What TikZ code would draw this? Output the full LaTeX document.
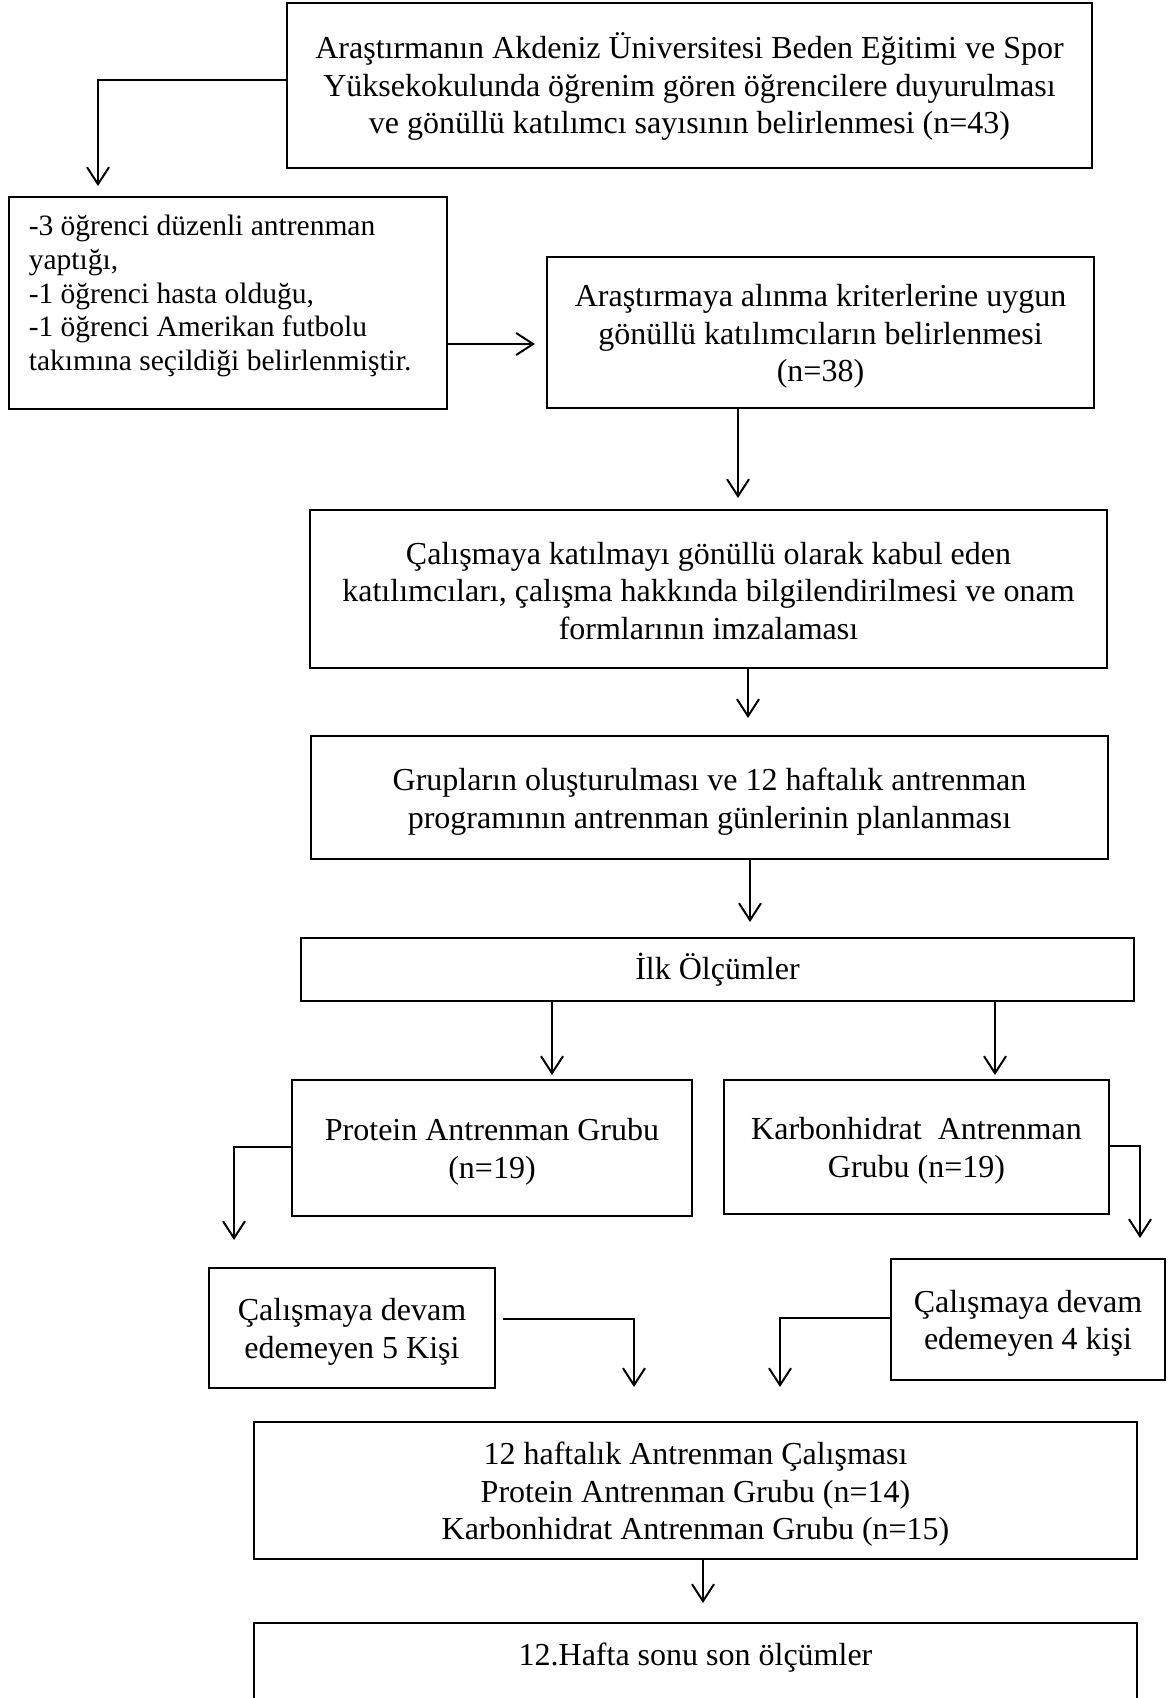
\documentclass[tikz,border=0pt]{standalone}
\usepackage{fontspec}
\setmainfont{Liberation Serif}
\usetikzlibrary{arrows.meta}
\begin{document}
\begin{tikzpicture}[x=1pt,y=-1pt,
  box/.style={draw, line width=2.8pt, inner sep=0pt},
  lbl/.style={inner sep=0pt, align=center, yshift=-4pt,
    font=\fontsize{32}{37.5}\selectfont},
  arr/.style={line width=2pt, -{Straight Barb[length=17pt,width=22pt]}}]
\useasboundingbox (0,0) rectangle (1170,1698);
\clip (0,0) rectangle (1170,1698);
\fill[white] (0,0) rectangle (1170,1698);

\node[box, minimum width=805pt, minimum height=165pt,
  label={[lbl, yshift=3pt]center:{Araştırmanın Akdeniz Üniversitesi Beden Eğitimi ve Spor\\
   Yüksekokulunda öğrenim gören öğrencilere duyurulması\\
   ve gönüllü katılımcı sayısının belirlenmesi (n=43)}}] (b1) at (689.5,85.5) {};

\node[box, minimum width=438pt, minimum height=212pt,
  label={[anchor=north west, align=left, inner sep=0pt,
    font=\fontsize{29.5}{33.7}\selectfont, xshift=21pt, yshift=-19.5pt]north west:{-3 öğrenci düzenli antrenman\\
    yaptığı,\\
    -1 öğrenci hasta olduğu,\\
    -1 öğrenci Amerikan futbolu\\
    takımına seçildiği belirlenmiştir.}}] (b2) at (228,303) {};

\node[box, minimum width=547pt, minimum height=151pt,
  label={[lbl]center:{Araştırmaya alınma kriterlerine uygun\\
   gönüllü katılımcıların belirlenmesi\\
   (n=38)}}] (b3) at (820.5,332.5) {};

\node[box, minimum width=797pt, minimum height=158pt,
  label={[lbl, yshift=2pt]center:{Çalışmaya katılmayı gönüllü olarak kabul eden\\
   katılımcıları, çalışma hakkında bilgilendirilmesi ve onam\\
   formlarının imzalaması}}] (b4) at (708.5,589) {};

\node[box, minimum width=797pt, minimum height=123pt,
  label={[lbl]center:{Grupların oluşturulması ve 12 haftalık antrenman\\
   programının antrenman günlerinin planlanması}}] (b5) at (709.5,797.5) {};

\node[box, minimum width=833pt, minimum height=63pt,
  label={[lbl, yshift=4pt]center:{İlk Ölçümler}}] (b6) at (717.5,969.5) {};

\node[box, minimum width=400pt, minimum height=136pt,
  label={[lbl]center:{Protein Antrenman Grubu\\ (n=19)}}] (b7) at (492,1148) {};

\node[box, minimum width=385pt, minimum height=134pt,
  label={[lbl]center:{Karbonhidrat\ \ Antrenman\\ Grubu (n=19)}}] (b8) at (916.5,1147) {};

\node[box, minimum width=286pt, minimum height=120pt,
  label={[lbl]center:{Çalışmaya devam\\ edemeyen 5 Kişi}}] (b9) at (352,1328) {};

\node[box, minimum width=274pt, minimum height=121pt,
  label={[lbl]center:{Çalışmaya devam\\ edemeyen 4 kişi}}] (b10) at (1028,1319.5) {};

\node[box, minimum width=883pt, minimum height=137pt,
  label={[lbl]center:{12 haftalık Antrenman Çalışması\\
   Protein Antrenman Grubu (n=14)\\
   Karbonhidrat Antrenman Grubu (n=15)}}] (b11) at (695.5,1490.5) {};

\node[box, minimum width=883pt, minimum height=160pt,
  label={[lbl, anchor=center, yshift=-32.5pt]north:12.Hafta sonu son ölçümler}] (b12) at (695.5,1703) {};

\coordinate (t1) at (98,186);
\coordinate (t2) at (535,344);
\coordinate (t3) at (738,498);
\coordinate (t4) at (748,718);
\coordinate (t5) at (750,922);
\coordinate (t6) at (552,1075);
\coordinate (t7) at (995,1075);
\coordinate (t8) at (234,1240);
\coordinate (t9) at (1140,1238);
\coordinate (t10) at (634,1387);
\coordinate (t11) at (780,1387);
\coordinate (t12) at (703,1603);

\draw[arr] ([yshift=6pt]b1.west) -| (t1);
\draw[arr] ([yshift=-41pt]b2.east) -- (t2);
\draw[arr] (b3.south -| t3) -- (t3);
\draw[arr] (b4.south -| t4) -- (t4);
\draw[arr] (b5.south -| t5) -- (t5);
\draw[arr] (b6.south -| t6) -- (t6);
\draw[arr] (b6.south -| t7) -- (t7);
\draw[arr] ([yshift=1pt]b7.west) -| (t8);
\draw[arr] ([yshift=1pt]b8.east) -| (t9);
\draw[arr] ([xshift=7pt,yshift=9pt]b9.east) -| (t10);
\draw[arr] ([yshift=1.5pt]b10.west) -| (t11);
\draw[arr] (b11.south -| t12) -- (t12);
\end{tikzpicture}
\end{document}
